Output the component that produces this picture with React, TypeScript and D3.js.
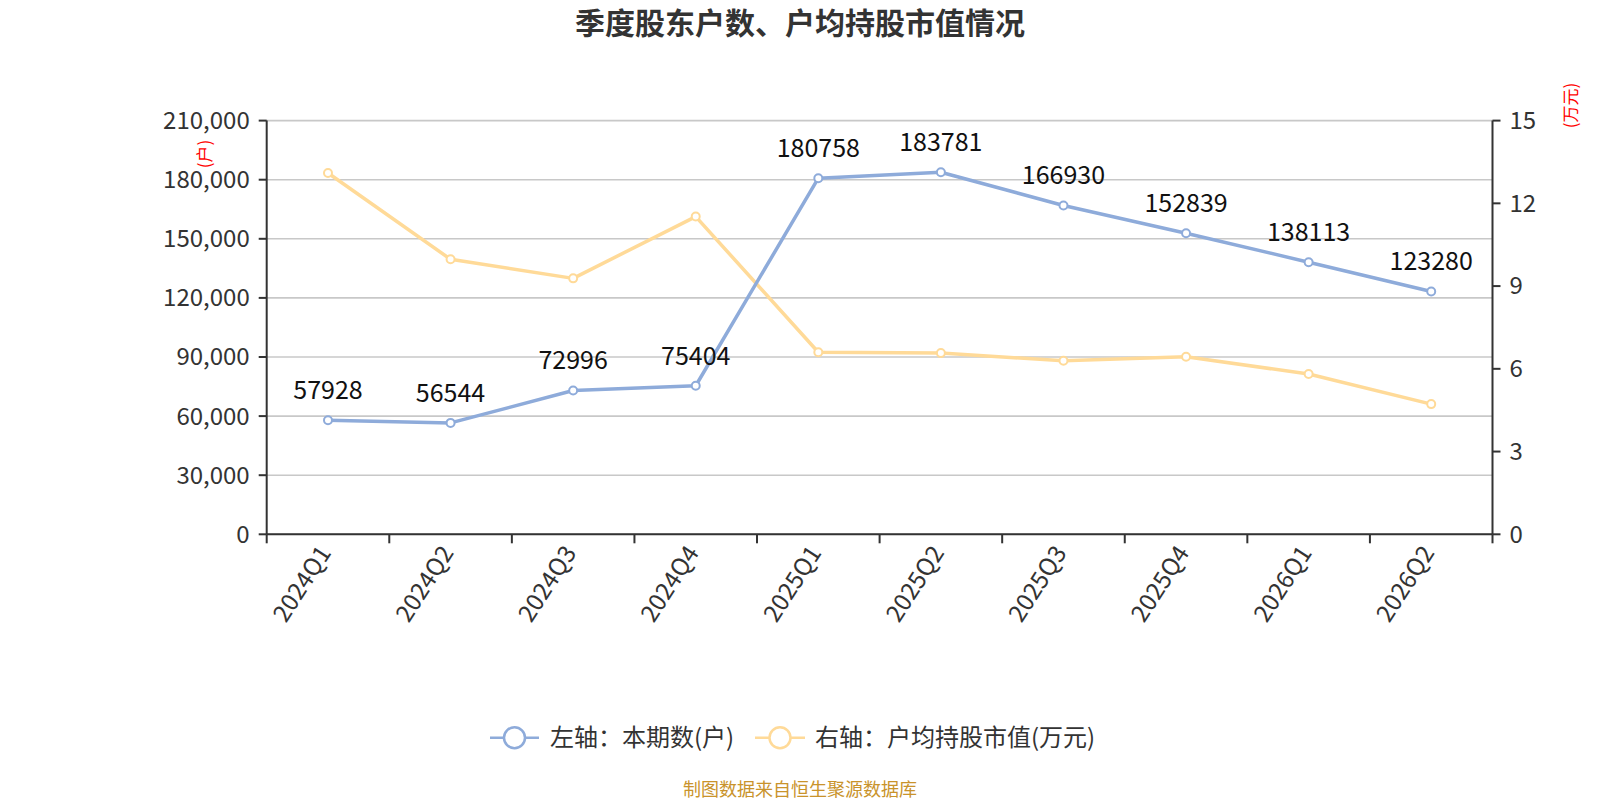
import React from "react";
import * as d3 from "d3";

// quarterly shareholder data
const quarters = [
  "2024Q1", "2024Q2", "2024Q3", "2024Q4", "2025Q1",
  "2025Q2", "2025Q3", "2025Q4", "2026Q1", "2026Q2",
];
const holders = [57928, 56544, 72996, 75404, 180758, 183781, 166930, 152839, 138113, 123280];
const avgValue = [13.1, 9.97, 9.28, 11.52, 6.6, 6.57, 6.29, 6.44, 5.81, 4.72];
const leftTicks = [0, 30000, 60000, 90000, 120000, 150000, 180000, 210000];
const rightTicks = [0, 3, 6, 9, 12, 15];

const BLUE = "#8EABDA";
const YELLOW = "#FFDA98";
const FONT = "'Noto Sans CJK SC', 'Noto Sans', sans-serif";

export default function App() {
  const width = 1600;
  const height = 800;
  const margin = { top: 120.6, right: 107.5, bottom: 265.7, left: 266.7 };
  const innerW = width - margin.left - margin.right;
  const innerH = height - margin.top - margin.bottom;

  const x = d3.scaleBand<string>().domain(quarters).range([0, innerW]);
  const yL = d3.scaleLinear().domain([0, 210000]).range([innerH, 0]);
  const yR = d3.scaleLinear().domain([0, 15]).range([innerH, 0]);
  const cx = (q: string) => (x(q) as number) + x.bandwidth() / 2;

  const lineL = d3
    .line<number>()
    .x((_, i) => cx(quarters[i]))
    .y((d) => yL(d));
  const lineR = d3
    .line<number>()
    .x((_, i) => cx(quarters[i]))
    .y((d) => yR(d));

  const fmt = d3.format(",");

  return (
    <svg
      width={width}
      height={height}
      style={{ display: "block", position: "absolute", left: 0, top: 0, background: "#fff" }}
      fontFamily={FONT}
    >
      <text x={800} y={34} textAnchor="middle" fontSize={30} fontWeight="bold" fill="#333">
        季度股东户数、户均持股市值情况
      </text>

      <g transform={`translate(${margin.left},${margin.top})`}>
        {/* grid */}
        {leftTicks.map((t) => (
          <line key={"g" + t} x1={0} x2={innerW} y1={yL(t)} y2={yL(t)} stroke="#c8c8c8" strokeWidth={1.6} />
        ))}

        {/* left axis */}
        <line x1={0} x2={0} y1={0} y2={innerH} stroke="#333" strokeWidth={2} />
        {leftTicks.map((t) => (
          <g key={"l" + t} transform={`translate(0,${yL(t)})`}>
            <line x1={-8} x2={0} stroke="#333" strokeWidth={2} />
            <text x={-17} dy="0.35em" textAnchor="end" fontSize={24} fill="#333">
              {fmt(t)}
            </text>
          </g>
        ))}
        <text
          transform={`translate(${205 - margin.left},${154 - margin.top}) rotate(-90)`}
          textAnchor="middle"
          dy="0.35em"
          fontSize={17}
          fill="red"
        >
          (户)
        </text>

        {/* right axis */}
        <line x1={innerW} x2={innerW} y1={0} y2={innerH} stroke="#333" strokeWidth={2} />
        {rightTicks.map((t) => (
          <g key={"r" + t} transform={`translate(${innerW},${yR(t)})`}>
            <line x1={0} x2={8} stroke="#333" strokeWidth={2} />
            <text x={17} dy="0.35em" textAnchor="start" fontSize={24} fill="#333">
              {t}
            </text>
          </g>
        ))}
        <text
          transform={`translate(${1571 - margin.left},${105.5 - margin.top}) rotate(-90)`}
          textAnchor="middle"
          dy="0.35em"
          fontSize={17}
          fill="red"
        >
          (万元)
        </text>

        {/* x axis */}
        <line x1={0} x2={innerW} y1={innerH} y2={innerH} stroke="#333" strokeWidth={2} />
        {[...quarters.map((q) => x(q) as number), innerW].map((px, i) => (
          <line key={"xt" + i} x1={px} x2={px} y1={innerH} y2={innerH + 9} stroke="#333" strokeWidth={2} />
        ))}
        {quarters.map((q) => (
          <text
            key={"xl" + q}
            transform={`translate(${cx(q) - 3},${innerH + 14}) rotate(-57)`}
            textAnchor="end"
            dy="0.35em"
            fontSize={24}
            fill="#333"
          >
            {q}
          </text>
        ))}

        {/* lines */}
        <path d={lineR(avgValue) || ""} fill="none" stroke={YELLOW} strokeWidth={3.5} strokeLinejoin="round" />
        <path d={lineL(holders) || ""} fill="none" stroke={BLUE} strokeWidth={3.5} strokeLinejoin="round" />

        {avgValue.map((v, i) => (
          <circle
            key={"rc" + i}
            cx={cx(quarters[i])}
            cy={yR(v)}
            r={4}
            fill="#fff"
            stroke={YELLOW}
            strokeWidth={2}
          />
        ))}
        {holders.map((v, i) => (
          <circle
            key={"lc" + i}
            cx={cx(quarters[i])}
            cy={yL(v)}
            r={4}
            fill="#fff"
            stroke={BLUE}
            strokeWidth={2}
          />
        ))}
        {holders.map((v, i) => (
          <text
            key={"lv" + i}
            x={cx(quarters[i])}
            y={yL(v) - 21}
            textAnchor="middle"
            fontSize={25}
            fill="#111"
          >
            {v}
          </text>
        ))}
      </g>

      {/* legend */}
      <g transform="translate(490,737.7)">
        <line x1={0} x2={49} stroke={BLUE} strokeWidth={2.5} />
        <circle cx={24.5} r={10.5} fill="#fff" stroke={BLUE} strokeWidth={2.5} />
        <text x={60} dy="0.35em" fontSize={24} fill="#333">
          左轴：本期数(户)
        </text>
        <line x1={265} x2={315} stroke={YELLOW} strokeWidth={2.5} />
        <circle cx={290} r={10.5} fill="#fff" stroke={YELLOW} strokeWidth={2.5} />
        <text x={325} dy="0.35em" fontSize={24} fill="#333">
          右轴：户均持股市值(万元)
        </text>
      </g>

      <text x={800} y={796} textAnchor="middle" fontSize={18} fill="#C9932B">
        制图数据来自恒生聚源数据库
      </text>
    </svg>
  );
}
